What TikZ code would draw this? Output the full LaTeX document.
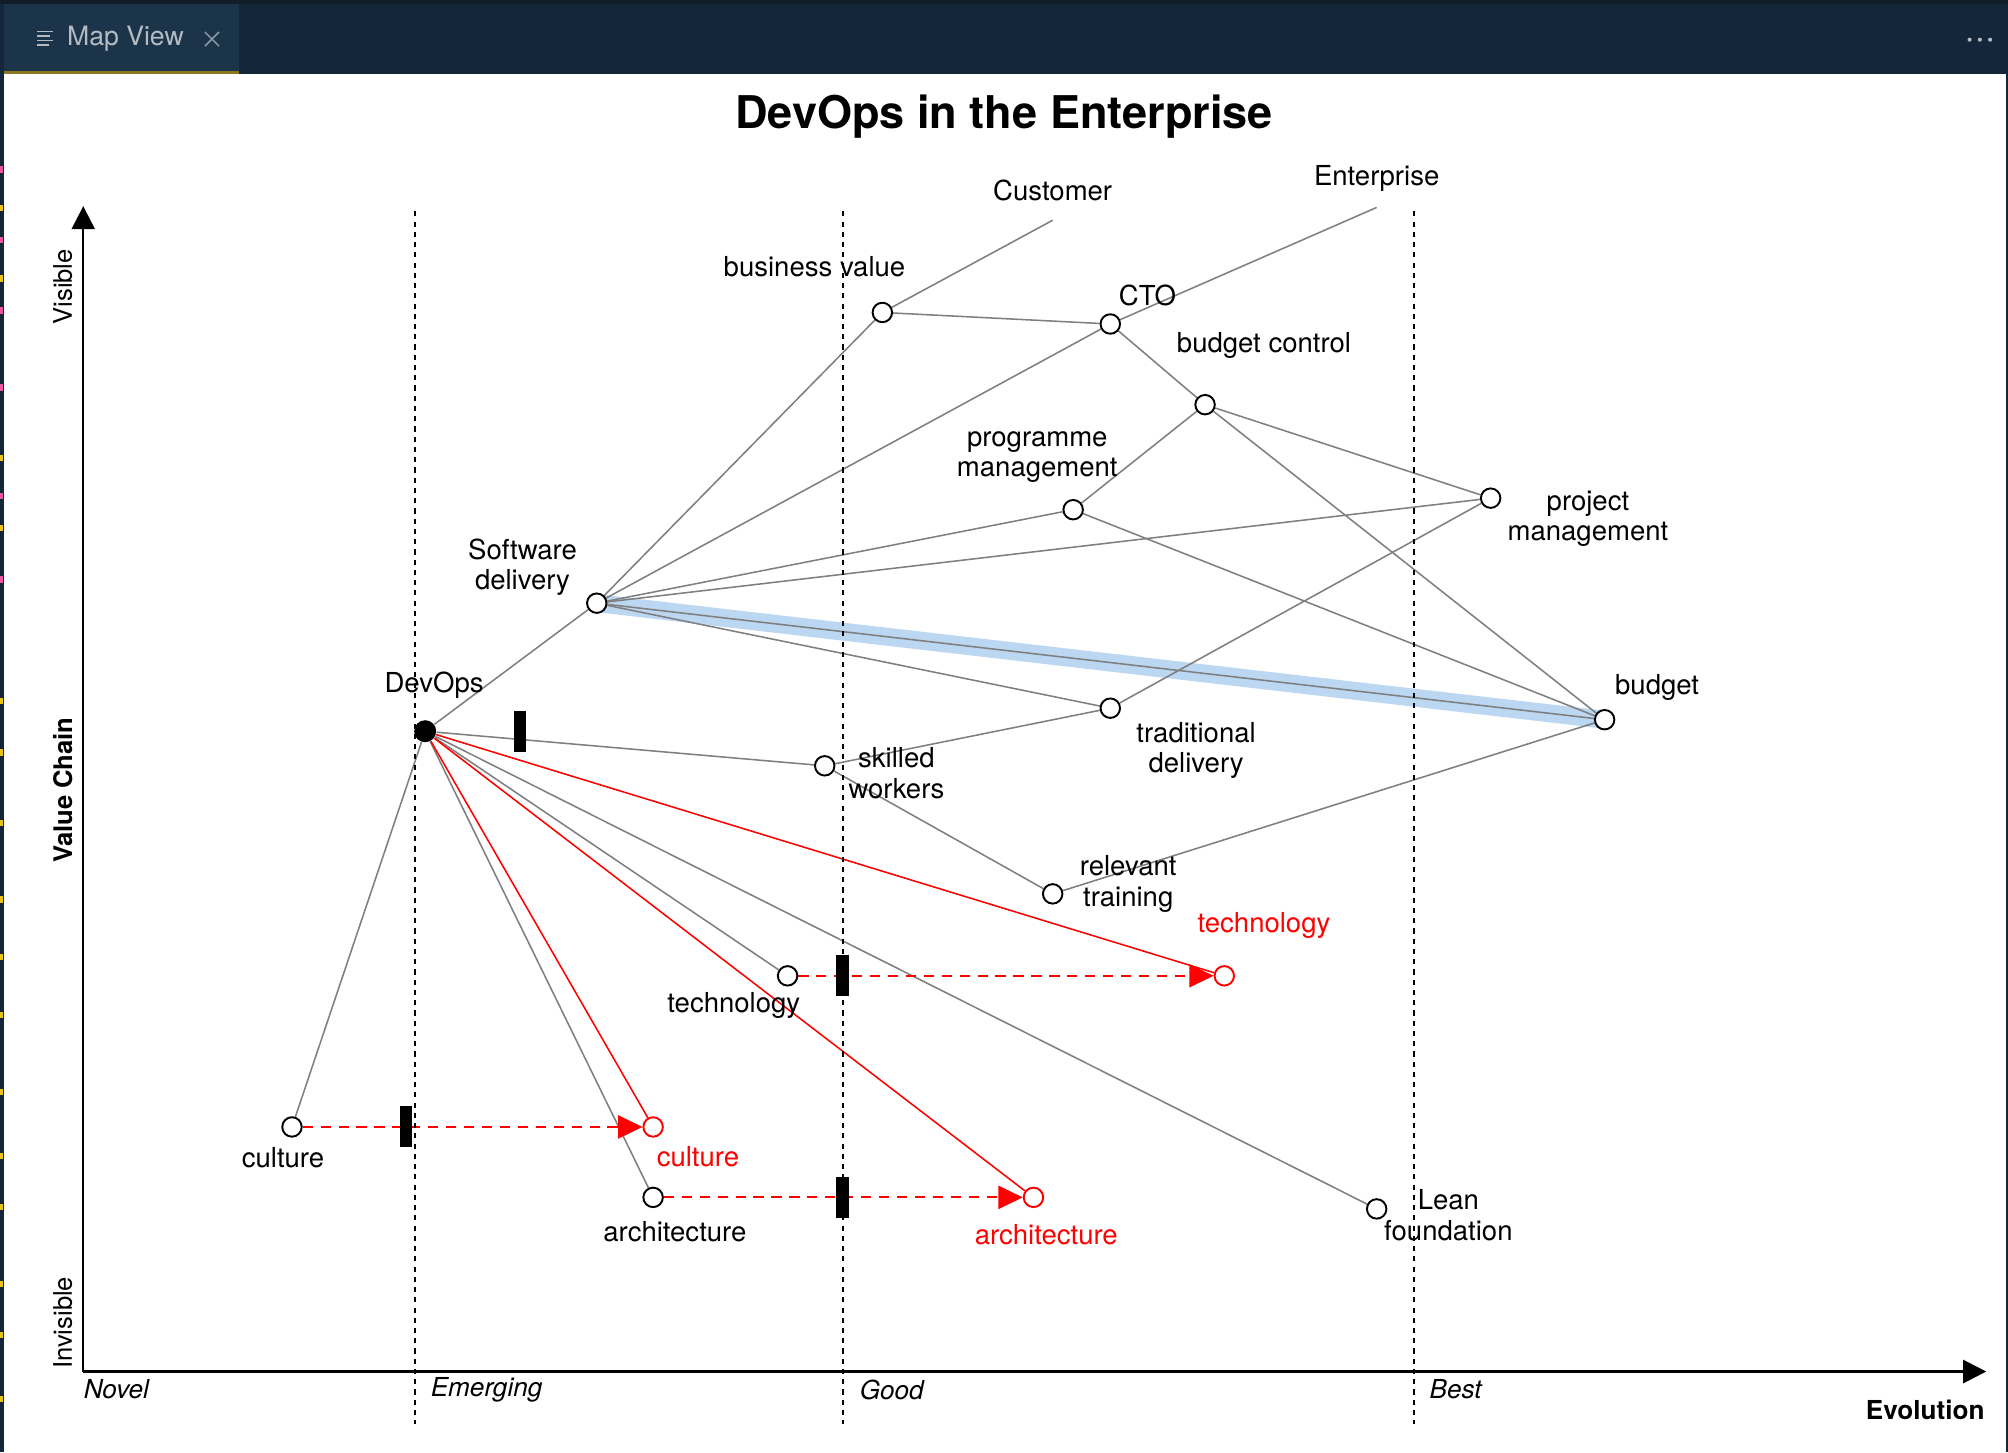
\documentclass[tikz,border=0pt]{standalone}
\usepackage{fontspec}
\setmainfont{TeX Gyre Heros}
\usetikzlibrary{arrows.meta}
\pgfdeclarelayer{back}
\pgfdeclarelayer{bg}
\pgfsetlayers{back,bg,main}
\definecolor{hdr}{HTML}{13263A}
\definecolor{hdrtop}{HTML}{111E2A}
\definecolor{tabc}{HTML}{1B344A}
\definecolor{tabline}{HTML}{8C7620}
\definecolor{hdrtext}{HTML}{B4BBC2}
\definecolor{edgegray}{HTML}{7F7F7F}
\definecolor{bandblue}{HTML}{BBD7F1}
\definecolor{markyellow}{HTML}{E8C21A}
\definecolor{markpink}{HTML}{E8559A}
\tikzset{
  lbl/.style={font=\fontsize{10.75}{12}\selectfont, align=center, inner sep=0pt, text=black},
  rlbl/.style={lbl, text=red},
  axlbl/.style={font=\fontsize{10.2}{12}\selectfont\itshape, inner sep=0pt, anchor=west},
  pt/.style={circle, draw=black, fill=white, line width=0.75pt, minimum size=7.6pt, inner sep=0pt},
  ptred/.style={pt, draw=red},
  devpt/.style={circle, fill=black, minimum size=8.6pt, inner sep=0pt},
  edge/.style={draw=edgegray, line width=0.6pt},
  redge/.style={draw=red, line width=0.6pt},
  evolve/.style={draw=red, line width=0.75pt, dash pattern=on 4pt off 3pt, -{Triangle[length=9.5pt,width=9pt]}},
  inertia/.style={rectangle, fill=black, minimum width=5pt, minimum height=16pt, inner sep=0pt},
  vline/.style={draw=black, line width=0.7pt, dash pattern=on 2pt off 2pt},
  axisline/.style={draw=black, line width=0.9pt, -{Triangle[length=9pt,width=9pt]}},
  band/.style={draw=bandblue, line width=7pt},
}
\begin{document}
\begin{tikzpicture}[x=0.5pt,y=-0.5pt]
\useasboundingbox (0,0) rectangle (1568,1134);
\begin{pgfonlayer}{back}
\fill[white] (0,0) rectangle (1568,1134);
\end{pgfonlayer}
% header
\fill[hdr] (0,0) rectangle (1568,57.5);
\fill[hdrtop] (0,0) rectangle (1568,3);
\fill[tabc] (3,3) rectangle (187,57.5);
\fill[tabline] (3,55.8) rectangle (187,57.5);
\draw[hdrtext, line width=0.6pt] (29,24.5) -- (41,24.5) (29,28) -- (39,28) (29,31.5) -- (41,31.5) (29,35) -- (38,35);
\node[font=\fontsize{10.4}{12}\selectfont, text=hdrtext, anchor=west, inner sep=0pt] (tabtitle) at (52,30.5) {Map View};
\draw[hdrtext!75!tabc, line width=0.6pt] (160,25) -- (171,36) (160,36) -- (171,25);
\fill[hdrtext] (1538,31) circle (1.6) (1546,31) circle (1.6) (1554,31) circle (1.6);
% side strips
\fill[hdr] (0,57.5) rectangle (3,1134);
\fill[hdr] (1566.5,57.5) rectangle (1568,1134);
\foreach \yy in {130,185,240,300,385,450} {\fill[markpink] (0,\yy) rectangle (2.2,\yy+5);}
\foreach \yy in {160,215,355,410,545,585,640,700,745,790,850,900,940,1000,1040,1090} {\fill[markyellow] (0,\yy) rectangle (2.2,\yy+5);}
% title
\node[font=\fontsize{17.6}{20}\selectfont\bfseries, inner sep=0pt] (title) at (784,91) {DevOps in the Enterprise};
% axes
\coordinate (origin) at (65,1071);
\coordinate (ytop) at (65,161);
\coordinate (xend) at (1551,1071);
\draw[axisline] (origin) -- (ytop);
\draw[axisline] (origin) -- (xend);
\node[rotate=90, font=\fontsize{10}{12}\selectfont, inner sep=0pt] (vis) at (49,224) {Visible};
\node[rotate=90, font=\fontsize{10}{12}\selectfont\bfseries, inner sep=0pt] (vc) at (49,617) {Value Chain};
\node[rotate=90, font=\fontsize{10}{12}\selectfont, inner sep=0pt] (invis) at (49,1033) {Invisible};
\node[axlbl] (novel) at (65,1085) {Novel};
\node[axlbl] (emerging) at (336,1085) {Emerging};
\node[axlbl] (good) at (671,1085) {Good};
\node[axlbl] (best) at (1116,1085) {Best};
\node[font=\fontsize{10.2}{12}\selectfont\bfseries, inner sep=0pt, anchor=east] (evol) at (1550,1101) {Evolution};
% stage lines
\coordinate (v1t) at (324,165); \coordinate (v1b) at (324,1112);
\coordinate (v2t) at (658,165); \coordinate (v2b) at (658,1112);
\coordinate (v3t) at (1104,165); \coordinate (v3b) at (1104,1112);
\draw[vline] (v1t) -- (v1b);
\draw[vline] (v2t) -- (v2b);
\draw[vline] (v3t) -- (v3b);
% components
\node[pt] (bv) at (689,244) {};
\node[pt] (cto) at (867,253) {};
\node[pt] (bc) at (941,316) {};
\node[pt] (pgm) at (838,398) {};
\node[pt] (pjm) at (1164,389) {};
\node[pt] (sd) at (466,471) {};
\node[devpt] (devops) at (332,571) {};
\node[pt] (td) at (867,553) {};
\node[pt] (bud) at (1253,562) {};
\node[pt] (sw) at (644,598) {};
\node[pt] (rt) at (822,698) {};
\node[pt] (tech) at (615,762) {};
\node[ptred] (techr) at (956,762) {};
\node[pt] (cul) at (228,880) {};
\node[ptred] (culr) at (510,880) {};
\node[pt] (arch) at (510,935) {};
\node[ptred] (archr) at (807,935) {};
\node[pt] (lean) at (1075,944) {};
\coordinate (custend) at (822,172);
\coordinate (entend) at (1075,162);
% labels
\node[lbl] (custL) at (822,149) {Customer};
\node[lbl] (entL) at (1075,139) {Enterprise};
\node[lbl] (bvL) at (636,208) {business value};
\node[lbl] (ctoL) at (896,231) {CTO};
\node[lbl] (bcL) at (987,270) {budget control};
\node[lbl] (pgmL) at (810,357) {programme\\management};
\node[lbl] (pjmL) at (1240,405) {project\\management};
\node[lbl] (sdL) at (408,443) {Software\\delivery};
\node[lbl] (devL) at (339,535) {DevOps};
\node[lbl] (tdL) at (934,586) {traditional\\delivery};
\node[lbl] (budL) at (1294,537) {budget};
\node[lbl] (swL) at (700,604) {skilled\\workers};
\node[lbl] (rtL) at (881,690) {relevant\\training};
\node[lbl] (techL) at (573,785) {technology};
\node[rlbl] (techrL) at (987,723) {technology};
\node[lbl] (culL) at (221,904) {culture};
\node[rlbl] (culrL) at (545,903) {culture};
\node[lbl] (archL) at (527,962) {architecture};
\node[rlbl] (archrL) at (817,964) {architecture};
\node[lbl] (leanL) at (1131,949) {Lean\\foundation};
% inertia
\node[inertia] (in1) at (406,571) {};
\node[inertia] (in2) at (658,762) {};
\node[inertia] (in3) at (317,880) {};
\node[inertia] (in4) at (658,935) {};
% links
\begin{pgfonlayer}{bg}
\draw[band] (sd.center) -- (bud.center);
\draw[edge] (bv) -- (custend);
\draw[edge] (cto) -- (entend);
\draw[edge] (bv) -- (cto);
\draw[edge] (bv) -- (sd);
\draw[edge] (cto) -- (sd);
\draw[edge] (cto) -- (bc);
\draw[edge] (bc) -- (pgm);
\draw[edge] (bc) -- (pjm);
\draw[edge] (bc) -- (bud);
\draw[edge] (pgm) -- (sd);
\draw[edge] (pgm) -- (bud);
\draw[edge] (pjm) -- (sd);
\draw[edge] (pjm) -- (td);
\draw[edge] (sd) -- (bud);
\draw[edge] (sd) -- (td);
\draw[edge] (sd) -- (devops);
\draw[edge] (td) -- (sw);
\draw[edge] (sw) -- (devops);
\draw[edge] (sw) -- (rt);
\draw[edge] (rt) -- (bud);
\draw[edge] (devops) -- (cul);
\draw[edge] (devops) -- (arch);
\draw[edge] (devops) -- (tech);
\draw[edge] (devops) -- (lean);
\draw[redge] (devops) -- (techr);
\draw[redge] (devops) -- (culr);
\draw[redge] (devops) -- (archr);
\draw[evolve] (tech) -- (techr);
\draw[evolve] (cul) -- (culr);
\draw[evolve] (arch) -- (archr);
\end{pgfonlayer}
\end{tikzpicture}
\end{document}
